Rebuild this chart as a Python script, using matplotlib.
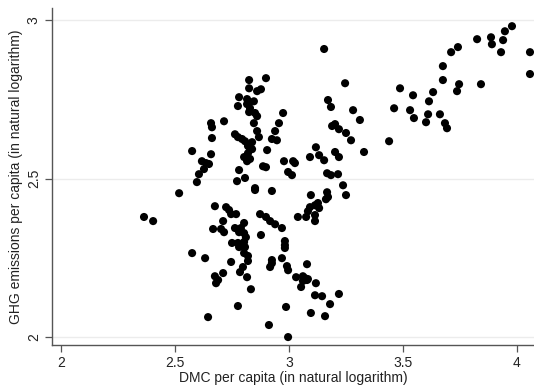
import matplotlib
matplotlib.use("Agg")
import matplotlib.pyplot as plt

plt.rcParams['font.family'] = ['Liberation Sans', 'DejaVu Sans']

# DMC per capita (ln) and GHG emissions per capita (ln)
dmc = [
    2.364, 2.404, 2.518, 2.575, 2.632,
    2.575, 2.596, 2.605, 2.618, 2.627, 2.636, 2.649, 2.658, 2.662, 2.658, 2.662, 2.715,
    2.825, 2.899, 2.825, 2.860, 2.877, 2.781, 2.776, 2.816, 2.825, 2.846, 2.816, 2.829,
    2.825, 2.851, 2.860, 2.846, 2.860, 2.868, 2.763, 2.776, 2.794, 2.807, 2.838, 2.820,
    2.829, 2.838, 2.820, 2.803, 2.816, 2.829, 2.886, 2.899, 2.904, 2.781, 2.772, 2.807,
    2.851,
    2.974, 2.956, 2.939, 2.925, 2.947, 2.978, 3.018, 3.026, 2.996, 3.013, 2.925,
    3.154, 3.246, 3.171, 3.184, 3.281, 3.311, 3.189, 3.202, 3.219, 3.250, 3.272, 3.092,
    3.118, 3.132, 3.154, 3.202, 3.219, 3.167, 3.184, 3.215, 3.237, 3.329, 3.096, 3.167,
    3.171, 3.162, 3.250,
    3.439, 3.461, 3.487, 3.531, 3.544, 3.548, 3.601, 3.610, 3.614, 3.632, 3.662, 3.684,
    3.693, 3.675, 3.675, 3.711, 3.741, 3.746, 3.737, 3.825, 3.842, 3.886, 3.890, 3.930,
    3.939, 3.947, 3.978, 4.057, 4.057,
    2.851, 2.675, 2.724, 2.737, 2.746, 2.768, 2.873, 2.899, 2.917, 2.711, 2.667, 2.702,
    2.715, 2.803, 2.789, 2.763, 2.781, 2.803, 2.811, 2.877, 2.750, 2.776, 2.803, 2.781,
    2.807, 2.803, 2.820, 2.820, 2.798, 2.746, 2.785, 2.816, 2.711, 2.675, 2.689, 2.680,
    2.833, 2.776, 2.645, 2.912,
    2.939, 2.969, 3.127, 3.114, 3.132, 3.092, 3.083, 3.114, 3.075, 3.039, 3.114, 2.982,
    2.982, 2.982, 2.969, 2.925, 2.925, 2.917, 2.991, 2.996, 3.079, 3.031, 3.061, 3.070,
    3.079, 3.061, 3.083, 3.053, 3.118, 3.114, 3.145, 3.219, 3.180, 2.987, 3.096, 3.158,
    2.996,
]
ghg = [
    2.379, 2.366, 2.454, 2.265, 2.249,
    2.587, 2.489, 2.514, 2.555, 2.530, 2.549, 2.546, 2.577, 2.628, 2.675, 2.662, 2.681,
    2.811, 2.817, 2.785, 2.776, 2.782, 2.757, 2.729, 2.751, 2.741, 2.744, 2.735, 2.722,
    2.710, 2.707, 2.697, 2.675, 2.650, 2.631, 2.640, 2.631, 2.625, 2.618, 2.615, 2.603,
    2.596, 2.593, 2.580, 2.568, 2.555, 2.562, 2.539, 2.536, 2.590, 2.527, 2.492, 2.502,
    2.470,
    2.707, 2.675, 2.650, 2.625, 2.621, 2.555, 2.555, 2.549, 2.521, 2.511, 2.461,
    2.909, 2.801, 2.748, 2.726, 2.716, 2.685, 2.666, 2.672, 2.656, 2.644, 2.621, 2.568,
    2.599, 2.574, 2.558, 2.584, 2.568, 2.517, 2.511, 2.514, 2.479, 2.584, 2.448, 2.457,
    2.442, 2.435, 2.448,
    2.618, 2.722, 2.785, 2.716, 2.763, 2.691, 2.678, 2.703, 2.744, 2.773, 2.703, 2.675,
    2.659, 2.811, 2.855, 2.899, 2.915, 2.798, 2.776, 2.940, 2.798, 2.946, 2.924, 2.899,
    2.937, 2.965, 2.981, 2.899, 2.830,
    2.464, 2.413, 2.410, 2.401, 2.388, 2.388, 2.388, 2.379, 2.366, 2.366, 2.341, 2.341,
    2.331, 2.360, 2.344, 2.344, 2.331, 2.328, 2.315, 2.322, 2.297, 2.297, 2.300, 2.284,
    2.284, 2.265, 2.256, 2.240, 2.221, 2.237, 2.205, 2.189, 2.202, 2.192, 2.180, 2.170,
    2.151, 2.098, 2.063, 2.038,
    2.356, 2.344, 2.423, 2.416, 2.407, 2.410, 2.397, 2.385, 2.379, 2.379, 2.366, 2.303,
    2.290, 2.281, 2.249, 2.243, 2.233, 2.221, 2.224, 2.211, 2.230, 2.189, 2.192, 2.186,
    2.180, 2.177, 2.183, 2.158, 2.170, 2.132, 2.129, 2.136, 2.104, 2.095, 2.076, 2.066,
    2.000,
]

xticks = [2, 2.5, 3, 3.5, 4]
xlabels = ['2', '2.5', '3', '3.5', '4']
yticks = [2, 2.5, 3]
ylabels = ['2', '2.5', '3']

fig = plt.figure(figsize=(5.34, 3.85), dpi=100)
ax = fig.add_axes([0.0974, 0.1039, 0.9026, 0.875])

ax.scatter(dmc, ghg, s=34, color='black', edgecolors='none', zorder=3, clip_on=True)

ax.set_xlim(1.9605, 4.0746)
ax.set_ylim(1.975, 3.038)

ax.set_xticks(xticks)
ax.set_xticklabels(xlabels)
ax.set_yticks(yticks)
ax.set_yticklabels(ylabels, rotation=90, va='center')

for y in yticks:
    ax.axhline(y, color='#ececec', lw=1.0, zorder=1)

for side in ['top', 'right']:
    ax.spines[side].set_visible(False)
for side in ['left', 'bottom']:
    ax.spines[side].set_color('#555555')
    ax.spines[side].set_linewidth(1.0)

ax.tick_params(axis='both', direction='out', length=5, width=0.9, color='#555555',
               labelsize=10, labelcolor='#222222', pad=3)

ax.set_xlabel('DMC per capita (in natural logarithm)', fontsize=10, color='#222222', labelpad=1)
ax.set_ylabel('GHG emissions per capita (in natural logarithm)', fontsize=10,
              color='#222222', labelpad=3)

fig.savefig('out.png', dpi=100)
